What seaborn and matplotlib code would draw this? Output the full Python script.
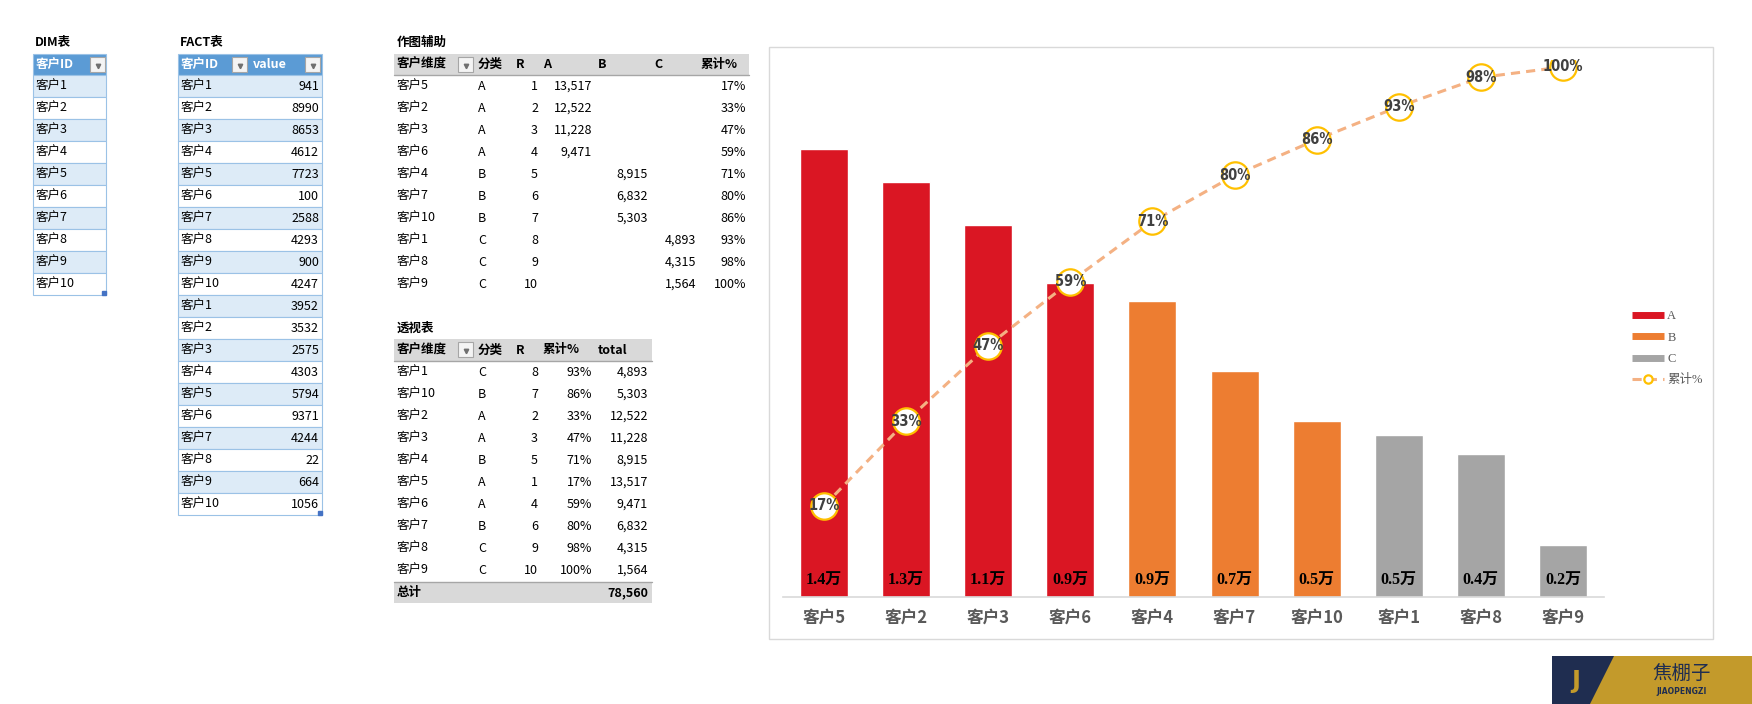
import numpy as np
import pandas as pd
import seaborn as sns
import matplotlib.pyplot as plt
from matplotlib.patches import Rectangle, Polygon
from matplotlib.lines import Line2D

sns.set_style('white')
CJK = ['Noto Sans CJK SC', 'DejaVu Sans']
plt.rcParams['font.family'] = CJK

# ---- data ----
dim_ids = ['客户1', '客户2', '客户3', '客户4', '客户5',
           '客户6', '客户7', '客户8', '客户9', '客户10']
fact_ids = dim_ids + dim_ids
fact_values = [941, 8990, 8653, 4612, 7723, 100, 2588, 4293, 900, 4247,
               3952, 3532, 2575, 4303, 5794, 9371, 4244, 22, 664, 1056]
rank_class = ['A', 'A', 'A', 'A', 'B', 'B', 'B', 'C', 'C', 'C']
class_colors = {'A': '#DA1623', 'B': '#ED7D31', 'C': '#A5A5A5'}

fact = pd.DataFrame({'id': fact_ids, 'value': fact_values})
totals = fact.groupby('id', sort=False)['value'].sum()
aux = totals.sort_values(ascending=False).reset_index()
aux['R'] = np.arange(1, len(aux) + 1)
aux['cls'] = rank_class
aux['cum'] = aux['value'].cumsum() / aux['value'].sum()
pivot = aux.sort_values('id').reset_index(drop=True)
grand_total = aux['value'].sum()

W, H = 1752, 704
fig = plt.figure(figsize=(W / 100, H / 100), dpi=100)
bg = fig.add_axes([0, 0, 1, 1])
bg.set_xlim(0, W)
bg.set_ylim(H, 0)
bg.axis('off')

RH = 22


def txt(x, y, s, ha='left', weight='normal', color='black', size=9, family=CJK):
    bg.text(x, y, s, ha=ha, va='center', fontsize=size, fontweight=weight,
            color=color, family=family)


def drop_btn(x, y, w=15, h=15):
    bg.add_patch(Rectangle((x, y), w, h, fc='#F4F4F4', ec='#A6A6A6', lw=0.8, zorder=3))
    bg.plot(x + w / 2, y + h / 2 + 1, marker='v', ms=3.2, color='#707070', zorder=4)


def blue_table(x0, x1, top, nrows):
    bg.add_patch(Rectangle((x0, top), x1 - x0, RH - 1, fc='#5B9BD5', ec='#9BC2E6', lw=0.8))
    for i in range(nrows):
        y = top + RH * (i + 1) - 1
        fc = '#DDEBF7' if i % 2 == 0 else 'white'
        bg.add_patch(Rectangle((x0, y), x1 - x0, RH, fc=fc, ec='#9BC2E6', lw=0.8))
    yb = top + RH * (nrows + 1) - 1
    bg.plot(x1 - 2.5, yb - 2.5, marker='s', ms=2.2, color='#4472C4')


# DIM table
txt(35, 42, 'DIM表', weight='bold')
blue_table(33, 106, 54, len(dim_ids))
txt(36, 64.5, '客户ID', weight='bold', color='white')
drop_btn(90, 57)
for i, s in enumerate(dim_ids):
    txt(36, 86 + RH * i, s)

# FACT table
txt(180, 42, 'FACT表', weight='bold')
blue_table(178, 322, 54, len(fact_ids))
txt(181, 64.5, '客户ID', weight='bold', color='white')
drop_btn(232, 57)
txt(253, 64.5, 'value', weight='bold', color='white')
drop_btn(305, 57)
for i, (s, v) in enumerate(zip(fact_ids, fact_values)):
    txt(181, 86 + RH * i, s)
    txt(319, 86 + RH * i, str(v), ha='right')

# 作图辅助 table
txt(397, 42, '作图辅助', weight='bold')
bg.add_patch(Rectangle((394, 54), 355, 21, fc='#D9D9D9', ec='none'))
bg.plot([394, 749], [75, 75], color='#A6A6A6', lw=1)
for x, s in [(397, '客户维度'), (478, '分类'), (516, 'R'), (543, 'A'),
             (598, 'B'), (654, 'C'), (701, '累计%')]:
    txt(x, 64.5, s, weight='bold')
drop_btn(458, 57)
col_right = {'A': 592, 'B': 648, 'C': 696}
for i, row in aux.iterrows():
    y = 86 + RH * i
    txt(397, y, row['id'])
    txt(478, y, row['cls'])
    txt(538, y, str(row['R']), ha='right')
    txt(col_right[row['cls']], y, f"{row['value']:,}", ha='right')
    txt(746, y, f"{row['cum']:.0%}", ha='right')

# 透视表
txt(397, 328, '透视表', weight='bold')
bg.add_patch(Rectangle((394, 339), 258, 22, fc='#D9D9D9', ec='none'))
bg.plot([394, 652], [361, 361], color='#A6A6A6', lw=1)
for x, s in [(397, '客户维度'), (478, '分类'), (516, 'R'), (543, '累计%'), (598, 'total')]:
    txt(x, 350, s, weight='bold')
drop_btn(458, 342)
for i, row in pivot.iterrows():
    y = 372 + RH * i
    txt(397, y, row['id'])
    txt(478, y, row['cls'])
    txt(538, y, str(row['R']), ha='right')
    txt(592, y, f"{row['cum']:.0%}", ha='right')
    txt(648, y, f"{row['value']:,}", ha='right')
bg.add_patch(Rectangle((394, 582), 258, 21, fc='#D9D9D9', ec='none'))
bg.plot([394, 652], [582, 582], color='#A6A6A6', lw=1)
txt(397, 592.5, '总计', weight='bold')
txt(648, 592.5, f"{grand_total:,}", ha='right', weight='bold')

# chart border
bg.add_patch(Rectangle((769, 47), 944, 592, fill=False, ec='#D9D9D9', lw=1))

# logo
bg.add_patch(Rectangle((1552, 656), 200, 48, fc='#C39A2B', ec='none'))
bg.add_patch(Polygon([(1552, 656), (1614, 656), (1590, 704), (1552, 704)],
                     closed=True, fc='#1F2D50', ec='none'))
txt(1576, 681, 'J', ha='center', weight='bold', color='#C39A2B', size=17,
    family=['DejaVu Sans'])
txt(1682, 673, '焦棚子', ha='center', color='#1F2D50', size=14)
txt(1682, 692, 'JIAOPENGZI', ha='center', weight='bold', color='#1F2D50', size=5.5,
    family=['DejaVu Sans'])

# ---- chart ----
ax = fig.add_axes([783 / W, 1 - 597 / H, (1604 - 783) / W, (597 - 60) / H])
ax.set_facecolor('none')
sns.barplot(data=aux, x='id', y='value', hue='cls', palette=class_colors,
            dodge=False, width=0.585, saturation=1, legend=False, ax=ax)
ax.set_xlim(-0.5, len(aux) - 0.5)
ax.set_ylim(0, 16200)
ax.set_xlabel('')
ax.set_ylabel('')
ax.set_yticks([])
for sp in ['top', 'left', 'right']:
    ax.spines[sp].set_visible(False)
ax.spines['bottom'].set_color('#D9D9D9')
ax.spines['bottom'].set_linewidth(1.2)
ax.tick_params(axis='x', length=0, pad=8)
for lab in ax.get_xticklabels():
    lab.set_fontsize(12)
    lab.set_fontweight('bold')
    lab.set_color('#595959')

for i, v in enumerate(aux['value']):
    ax.annotate(f'{v / 10000:.1f}万', xy=(i, 0), xytext=(0, 12), textcoords='offset points',
                ha='center', va='center', fontsize=11.5, fontweight='bold', color='black',
                family=['Liberation Serif', 'Noto Sans CJK SC'])

ax2 = ax.twinx()
ax2.set_ylim(0, 1.013)
ax2.plot(np.arange(len(aux)), aux['cum'], color='#F4B183', lw=2.2, ls=(0, (3, 2)),
         marker='o', ms=19, mfc='white', mec='#FFC000', mew=1.6)
for i, c in enumerate(aux['cum']):
    ax2.text(i, c, f'{c:.0%}', ha='center', va='center', fontsize=10.5, fontweight='heavy',
             fontstretch='condensed', color='#404040', family=['DejaVu Sans'])
ax2.set_yticks([])
for sp in ax2.spines.values():
    sp.set_visible(False)

handles = [Line2D([], [], color=class_colors[k], lw=5, solid_capstyle='butt')
           for k in ['A', 'B', 'C']]
handles.append(Line2D([], [], color='#F4B183', lw=2.2, ls=(0, (3, 2)), marker='o',
                      ms=6, mfc='white', mec='#FFC000', mew=1.6, dash_capstyle='butt'))
fig.legend(handles, ['A', 'B', 'C', '累计%'], loc='upper left',
           bbox_to_anchor=(1626 / W, 1 - 304 / H), bbox_transform=fig.transFigure,
           frameon=False, handlelength=2.5, labelspacing=0.75, handletextpad=0.3,
           borderpad=0, labelcolor='#595959',
           prop={'family': ['Liberation Serif', 'Noto Sans CJK SC'], 'size': 9})

fig.savefig('out.png', dpi=100)
